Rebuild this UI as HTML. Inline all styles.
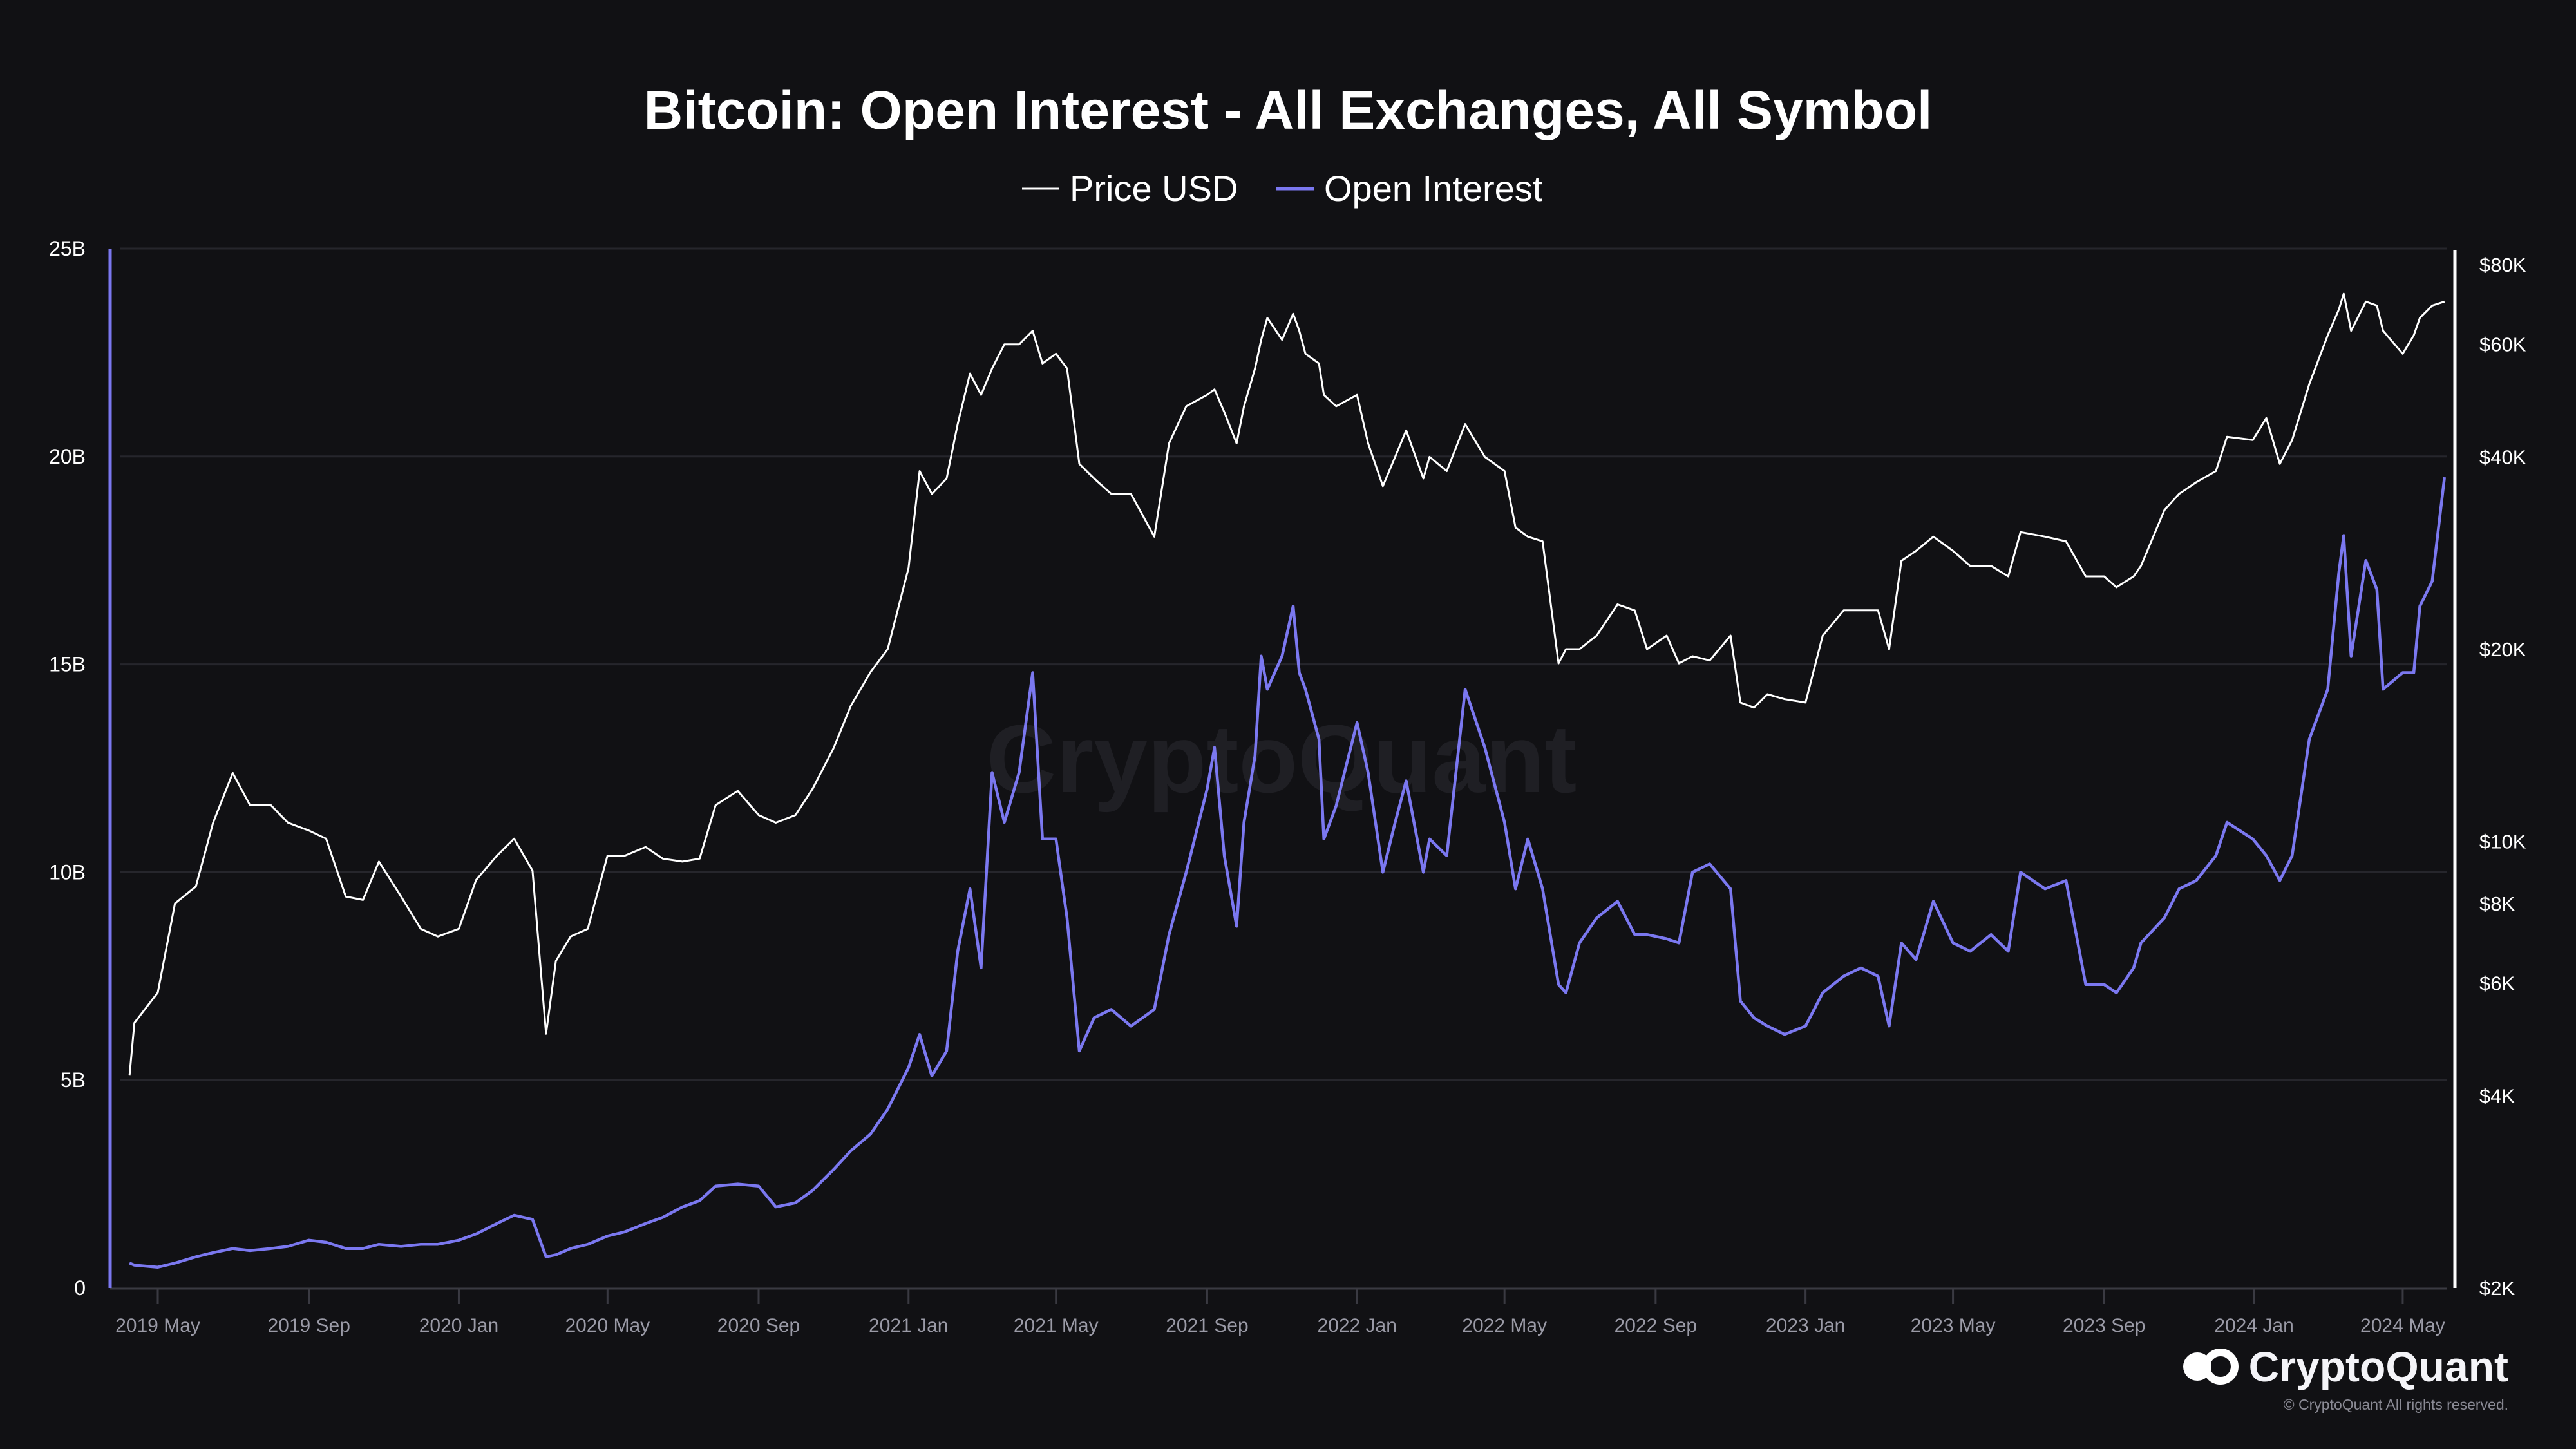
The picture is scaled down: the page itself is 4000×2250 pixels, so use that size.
<!DOCTYPE html>
<html><head><meta charset="utf-8"><style>
html,body{margin:0;padding:0;background:#111114;}
svg{display:block;font-family:"Liberation Sans",sans-serif;}
</style></head><body>
<svg id="chart" width="4000" height="2250" viewBox="0 0 4000 2250">
<rect width="4000" height="2250" fill="#111114"/>
<text x="2000" y="200" text-anchor="middle" fill="#ffffff" font-size="84" font-weight="bold">Bitcoin: Open Interest - All Exchanges, All Symbol</text>
<g>
<g><line x1="1587" y1="293" x2="1645" y2="293" stroke="#fff" stroke-width="3"/><text x="1661" y="312" fill="#fff" font-size="56">Price USD</text></g>
<g><line x1="1982" y1="293" x2="2041" y2="293" stroke="#7b78f0" stroke-width="5"/><text x="2056" y="312" fill="#fff" font-size="56">Open Interest</text></g>
</g>
<text x="1990" y="1230" text-anchor="middle" fill="#1f1f24" font-size="150" font-weight="bold">CryptoQuant</text>
<g id="grid"></g><g id="axes"></g><g id="series"></g>
<g>
<circle cx="3412" cy="2122" r="22" fill="#fff"/>
<circle cx="3448" cy="2122" r="22" fill="none" stroke="#fff" stroke-width="12"/>
<text x="3895" y="2145" text-anchor="end" fill="#f4f4f8" font-size="66" font-weight="bold">CryptoQuant</text>
<text x="3895" y="2189" text-anchor="end" fill="#8a8a94" font-size="23">© CryptoQuant All rights reserved.</text>
</g>
</svg>
<script>
const dates=["2019-04-08","2019-04-12","2019-05-01","2019-05-15","2019-06-01","2019-06-15","2019-07-01","2019-07-15","2019-08-01","2019-08-15","2019-09-01","2019-09-15","2019-10-01","2019-10-15","2019-10-28","2019-11-15","2019-12-01","2019-12-15","2020-01-01","2020-01-15","2020-02-01","2020-02-15","2020-03-01","2020-03-12","2020-03-20","2020-04-01","2020-04-15","2020-05-01","2020-05-15","2020-06-01","2020-06-15","2020-07-01","2020-07-15","2020-07-28","2020-08-15","2020-09-01","2020-09-15","2020-10-01","2020-10-15","2020-11-01","2020-11-15","2020-12-01","2020-12-15","2021-01-01","2021-01-10","2021-01-20","2021-02-01","2021-02-10","2021-02-20","2021-03-01","2021-03-10","2021-03-20","2021-04-01","2021-04-12","2021-04-20","2021-05-01","2021-05-10","2021-05-20","2021-06-01","2021-06-15","2021-07-01","2021-07-20","2021-08-01","2021-08-15","2021-09-01","2021-09-07","2021-09-15","2021-09-25","2021-10-01","2021-10-10","2021-10-15","2021-10-20","2021-11-01","2021-11-10","2021-11-15","2021-11-20","2021-12-01","2021-12-05","2021-12-15","2022-01-01","2022-01-10","2022-01-22","2022-02-01","2022-02-10","2022-02-24","2022-03-01","2022-03-15","2022-03-30","2022-04-15","2022-05-01","2022-05-10","2022-05-20","2022-06-01","2022-06-14","2022-06-20","2022-07-01","2022-07-15","2022-08-01","2022-08-15","2022-08-25","2022-09-10","2022-09-20","2022-10-01","2022-10-15","2022-11-01","2022-11-09","2022-11-20","2022-12-01","2022-12-15","2023-01-01","2023-01-15","2023-02-01","2023-02-15","2023-03-01","2023-03-10","2023-03-20","2023-04-01","2023-04-15","2023-05-01","2023-05-15","2023-06-01","2023-06-15","2023-06-25","2023-07-15","2023-08-01","2023-08-17","2023-09-01","2023-09-11","2023-09-25","2023-10-01","2023-10-20","2023-11-01","2023-11-15","2023-12-01","2023-12-10","2023-12-31","2024-01-11","2024-01-22","2024-02-01","2024-02-15","2024-03-01","2024-03-10","2024-03-14","2024-03-20","2024-04-01","2024-04-10","2024-04-15","2024-05-01","2024-05-10","2024-05-15","2024-05-25","2024-06-04"];
const priceK=[4.3,5.2,5.8,8.0,8.5,10.7,12.8,11.4,11.4,10.7,10.4,10.1,8.2,8.1,9.3,8.2,7.3,7.1,7.3,8.7,9.5,10.1,9.0,5.0,6.5,7.1,7.3,9.5,9.5,9.8,9.4,9.3,9.4,11.4,12.0,11.0,10.7,11.0,12.1,14.0,16.3,18.4,20.0,26.8,38,35,37,45,54,50,55,60,60,63,56,58,55,39,37,35,35,30,42,48,50,51,47,42,48,55,61,66,61,67,63,58,56,50,48,50,42,36,40,44,37,40,38,45,40,38,31,30,29.5,19,20,20,21,23.5,23,20,21,19,19.5,19.2,21,16.5,16.2,17,16.7,16.5,21,23,23,23,20,27.5,28.5,30,28.5,27,27,26,30.5,30,29.5,26,26,25,26,27,33,35,36.5,38,43,42.5,46,39,42.5,52,62,68,72,63,70,69,63,58,62,66,69,70];
const oiB=[0.6,0.55,0.5,0.6,0.75,0.85,0.95,0.9,0.95,1.0,1.15,1.1,0.95,0.95,1.05,1.0,1.05,1.05,1.15,1.3,1.55,1.75,1.65,0.75,0.8,0.95,1.05,1.25,1.35,1.55,1.7,1.95,2.1,2.45,2.5,2.45,1.95,2.05,2.35,2.85,3.3,3.7,4.3,5.3,6.1,5.1,5.7,8.1,9.6,7.7,12.4,11.2,12.4,14.8,10.8,10.8,8.9,5.7,6.5,6.7,6.3,6.7,8.5,10,12,13,10.4,8.7,11.2,12.8,15.2,14.4,15.2,16.4,14.8,14.4,13.2,10.8,11.6,13.6,12.4,10,11.2,12.2,10,10.8,10.4,14.4,13,11.2,9.6,10.8,9.6,7.3,7.1,8.3,8.9,9.3,8.5,8.5,8.4,8.3,10,10.2,9.6,6.9,6.5,6.3,6.1,6.3,7.1,7.5,7.7,7.5,6.3,8.3,7.9,9.3,8.3,8.1,8.5,8.1,10,9.6,9.8,7.3,7.3,7.1,7.7,8.3,8.9,9.6,9.8,10.4,11.2,10.8,10.4,9.8,10.4,13.2,14.4,17.2,18.1,15.2,17.5,16.8,14.4,14.8,14.8,16.4,17,19.5];
const leftTicks=[0,5,10,15,20,25];
const leftTickLabels=["0","5B","10B","15B","20B","25B"];
const rightTicks=[2,4,6,8,10,20,40,60,80];
const rightTickLabels=["$2K","$4K","$6K","$8K","$10K","$20K","$40K","$60K","$80K"];
const xTickLabels=["2019 May","2019 Sep","2020 Jan","2020 May","2020 Sep","2021 Jan","2021 May","2021 Sep","2022 Jan","2022 May","2022 Sep","2023 Jan","2023 May","2023 Sep","2024 Jan","2024 May"];
const xTickDates=["2019-05-01","2019-09-01","2020-01-01","2020-05-01","2020-09-01","2021-01-01","2021-05-01","2021-09-01","2022-01-01","2022-05-01","2022-09-01","2023-01-01","2023-05-01","2023-09-01","2024-01-01","2024-05-01"];

const NS="http://www.w3.org/2000/svg";
const T0=Date.parse("2019-05-01");
function xS(d){return 245+(Date.parse(d)-T0)/86400000*1.908;}
function yL(v){return 2000-v*64.56;}
function yR(k){return 2000-Math.log10(k/2)*992;}
function mk(tag,attrs,parent){const e=document.createElementNS(NS,tag);for(const k in attrs)e.setAttribute(k,attrs[k]);parent.appendChild(e);return e;}
const grid=document.getElementById('grid'),axes=document.getElementById('axes'),series=document.getElementById('series');
leftTicks.forEach((v,i)=>{
  const y=yL(v);
  if(v>0){const g=mk('line',{x1:186,x2:3800,y1:y,y2:y,stroke:'#26262c','stroke-width':3},grid);
  
  }
  const t=mk('text',{x:133,y:y+11,'text-anchor':'end',fill:'#fff','font-size':32},axes);
  t.textContent=leftTickLabels[i];
  
  
});
rightTicks.forEach((v,i)=>{
  const t=mk('text',{x:3850,y:yR(v)+11,fill:'#fff','font-size':31},axes);
  t.textContent=rightTickLabels[i];
  
  
});
const xa=mk('line',{x1:171,x2:3800,y1:2001,y2:2001,stroke:'#3a3a42','stroke-width':3},axes);


xTickDates.forEach((d,i)=>{
  const x=xS(d);
  const tk=mk('line',{x1:x,x2:x,y1:2001,y2:2025,stroke:'#3a3a42','stroke-width':3},axes);
  
  
  const t=mk('text',{x:x,y:2068,'text-anchor':'middle',fill:'#9a9aa6','font-size':30},axes);
  t.textContent=xTickLabels[i];
  
  
});
const la=mk('line',{x1:171,x2:171,y1:387,y2:2000,stroke:'#7b78f0','stroke-width':5},axes);


const ra=mk('line',{x1:3812,x2:3812,y1:388,y2:2000,stroke:'#ffffff','stroke-width':5},axes);


const oiPts=dates.map((d,i)=>xS(d).toFixed(1)+','+yL(oiB[i]).toFixed(1)).join(' ');
const oiLine=mk('polyline',{points:oiPts,fill:'none',stroke:'#7b78f0','stroke-width':4.5,'stroke-linejoin':'round'},series);


const pPts=dates.map((d,i)=>xS(d).toFixed(1)+','+yR(priceK[i]).toFixed(1)).join(' ');
const pLine=mk('polyline',{points:pPts,fill:'none',stroke:'#ffffff','stroke-width':3,'stroke-linejoin':'round'},series);


</script>
</body></html>
